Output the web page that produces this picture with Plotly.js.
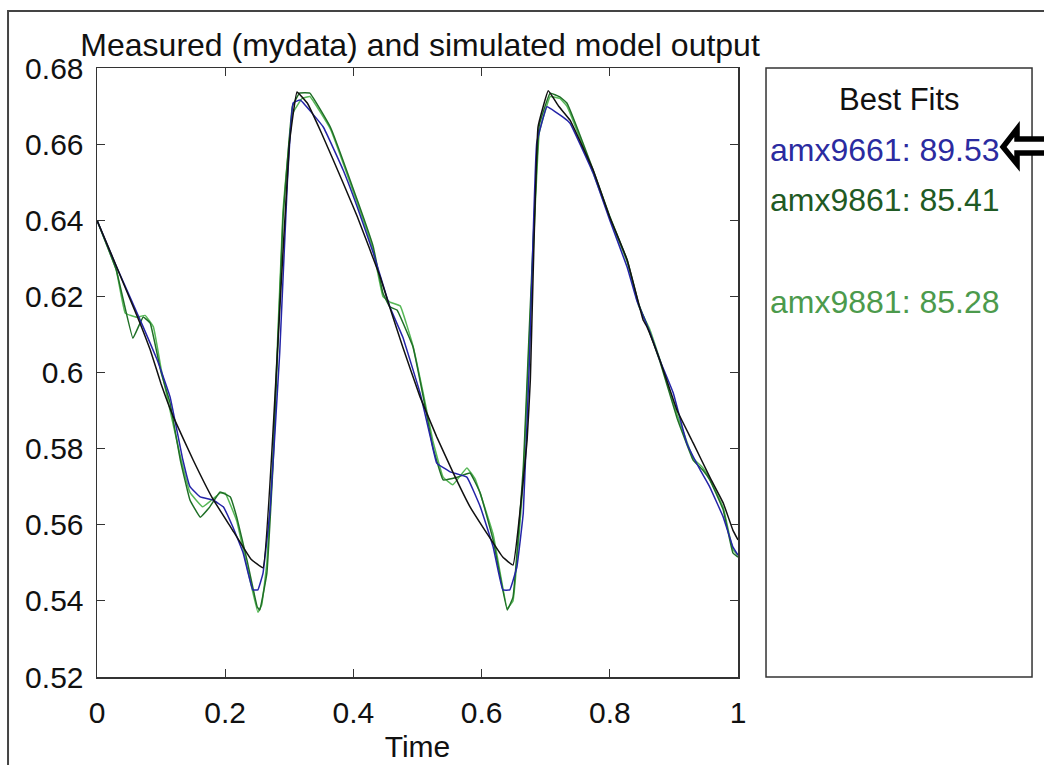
<!DOCTYPE html>
<html>
<head>
<meta charset="utf-8">
<script src="https://cdn.plot.ly/plotly-3.0.1.min.js"></script>
<style>html,body{margin:0;padding:0;background:#fff;}#chart{width:1044px;height:765px;}</style>
</head>
<body>
<div id="chart"></div>
<script>
// ---- data ----
var measuredT = [0, 0.03, 0.067, 0.083, 0.10, 0.12, 0.15, 0.18, 0.21, 0.24, 0.259, 0.281, 0.30, 0.312, 0.328, 0.35, 0.384, 0.406, 0.442, 0.457, 0.477, 0.504, 0.530, 0.555, 0.582, 0.608, 0.633, 0.649, 0.671, 0.676, 0.688, 0.704, 0.720, 0.738, 0.774, 0.800, 0.827, 0.852, 0.858, 0.878, 0.905, 0.930, 0.956, 0.977, 0.992, 1.0];
var measuredY = [0.640, 0.628, 0.613, 0.606, 0.597, 0.588, 0.577, 0.567, 0.559, 0.551, 0.5487, 0.604, 0.660, 0.6737, 0.6708, 0.663, 0.6498, 0.641, 0.625, 0.617, 0.6067, 0.5936, 0.5831, 0.5739, 0.5647, 0.5578, 0.5515, 0.5494, 0.5823, 0.598, 0.6645, 0.674, 0.670, 0.6663, 0.6532, 0.6408, 0.6296, 0.6138, 0.612, 0.6033, 0.590, 0.5815, 0.5725, 0.5657, 0.5586, 0.556];

var amx9661T = [0, 0.03, 0.072, 0.094, 0.114, 0.134, 0.145, 0.161, 0.181, 0.197, 0.212, 0.228, 0.243, 0.251, 0.259, 0.270, 0.285, 0.297, 0.306, 0.317, 0.353, 0.384, 0.406, 0.431, 0.457, 0.477, 0.504, 0.520, 0.530, 0.551, 0.577, 0.598, 0.618, 0.633, 0.644, 0.655, 0.665, 0.675, 0.686, 0.702, 0.727, 0.738, 0.774, 0.800, 0.827, 0.842, 0.863, 0.878, 0.899, 0.920, 0.941, 0.956, 0.977, 0.992, 1.0];
var amx9661Y = [0.640, 0.628, 0.612, 0.6033, 0.5936, 0.577, 0.570, 0.5673, 0.5665, 0.5647, 0.5594, 0.5526, 0.5429, 0.5429, 0.5473, 0.5639, 0.605, 0.650, 0.6708, 0.6716, 0.6645, 0.6532, 0.6435, 0.6314, 0.6172, 0.6093, 0.5946, 0.5831, 0.5762, 0.5739, 0.5725, 0.5647, 0.5542, 0.5429, 0.5429, 0.5489, 0.5631, 0.605, 0.6603, 0.6698, 0.6671, 0.6655, 0.6524, 0.640, 0.6277, 0.619, 0.6104, 0.6033, 0.5946, 0.5815, 0.5744, 0.5699, 0.562, 0.5542, 0.552];

var amx9861T = [0, 0.03, 0.056, 0.072, 0.083, 0.10, 0.114, 0.130, 0.145, 0.161, 0.176, 0.192, 0.208, 0.218, 0.234, 0.250, 0.254, 0.265, 0.275, 0.290, 0.305, 0.316, 0.332, 0.364, 0.406, 0.431, 0.446, 0.457, 0.468, 0.493, 0.509, 0.524, 0.540, 0.562, 0.582, 0.598, 0.618, 0.640, 0.649, 0.665, 0.690, 0.707, 0.722, 0.733, 0.774, 0.800, 0.827, 0.845, 0.858, 0.878, 0.905, 0.930, 0.945, 0.956, 0.977, 0.992, 1.0];
var amx9861Y = [0.640, 0.627, 0.609, 0.6146, 0.613, 0.600, 0.592, 0.577, 0.5665, 0.562, 0.5647, 0.5686, 0.5673, 0.562, 0.5507, 0.5384, 0.5376, 0.5473, 0.577, 0.640, 0.670, 0.6734, 0.6734, 0.6645, 0.6453, 0.633, 0.6209, 0.6172, 0.6164, 0.6067, 0.5936, 0.5804, 0.5718, 0.5725, 0.5736, 0.5683, 0.556, 0.5376, 0.541, 0.575, 0.665, 0.6734, 0.6724, 0.6708, 0.6532, 0.641, 0.6296, 0.618, 0.6125, 0.603, 0.588, 0.577, 0.5744, 0.5718, 0.5639, 0.5526, 0.5515];

var amx9881T = [0, 0.03, 0.044, 0.062, 0.075, 0.088, 0.10, 0.114, 0.130, 0.145, 0.165, 0.192, 0.200, 0.218, 0.234, 0.251, 0.257, 0.265, 0.275, 0.290, 0.305, 0.320, 0.332, 0.364, 0.406, 0.431, 0.446, 0.457, 0.473, 0.493, 0.509, 0.524, 0.540, 0.555, 0.577, 0.590, 0.618, 0.640, 0.649, 0.665, 0.690, 0.707, 0.722, 0.733, 0.774, 0.800, 0.827, 0.845, 0.862, 0.878, 0.905, 0.930, 0.945, 0.956, 0.977, 0.992, 1.0];
var amx9881Y = [0.640, 0.627, 0.6156, 0.6145, 0.615, 0.612, 0.601, 0.590, 0.578, 0.5685, 0.5647, 0.5683, 0.5683, 0.561, 0.549, 0.537, 0.539, 0.550, 0.580, 0.642, 0.668, 0.672, 0.6725, 0.664, 0.6445, 0.632, 0.620, 0.6185, 0.6175, 0.607, 0.5945, 0.582, 0.5725, 0.5705, 0.5749, 0.572, 0.5575, 0.538, 0.540, 0.572, 0.663, 0.6725, 0.672, 0.670, 0.6525, 0.6405, 0.629, 0.6175, 0.6115, 0.6035, 0.589, 0.5775, 0.575, 0.572, 0.5645, 0.5535, 0.552];

var modelNames = ['amx9661', 'amx9861', 'amx9881'];
var fitValues = [89.53, 85.41, 85.28];

var xTickVals = [0, 0.2, 0.4, 0.6, 0.8, 1];
var xTickText = ['0', '0.2', '0.4', '0.6', '0.8', '1'];
var yTickVals = [0.52, 0.54, 0.56, 0.58, 0.60, 0.62, 0.64, 0.66, 0.68];
var yTickText = ['0.52', '0.54', '0.56', '0.58', '0.6', '0.62', '0.64', '0.66', '0.68'];

// ---- styling ----
var lineColors = ['#2424a8', '#1f6f26', '#58b858'];
var textColors = ['#2b2ba0', '#1f5a24', '#4c9a4c'];
var legendY = [0.866, 0.783, 0.616];
var FONT = 'Liberation Sans, Arial, sans-serif';

function tr(x, y, color, w) {
  return {x: x, y: y, type: 'scatter', mode: 'lines',
    line: {color: color, width: w, shape: 'spline', smoothing: 0.25},
    hoverinfo: 'skip', showlegend: false};
}

var traces = [
  tr(amx9881T, amx9881Y, lineColors[2], 1.5),
  tr(amx9861T, amx9861Y, lineColors[1], 1.5),
  tr(amx9661T, amx9661Y, lineColors[0], 1.5),
  tr(measuredT, measuredY, '#111111', 1.5)
];

var annotations = [{
  text: 'Best Fits', xref: 'paper', yref: 'paper', x: 1.2527, y: 0.9475,
  xanchor: 'center', yanchor: 'middle', showarrow: false,
  font: {family: FONT, size: 31, color: '#111'}
}];
for (var i = 0; i < modelNames.length; i++) {
  annotations.push({
    text: modelNames[i] + ': ' + fitValues[i].toFixed(2),
    xref: 'paper', yref: 'paper', x: 1.0475, y: legendY[i],
    xanchor: 'left', yanchor: 'middle', showarrow: false,
    font: {family: FONT, size: 32, color: textColors[i]}
  });
}

var shapes = [
  // legend box
  {type: 'rect', xref: 'paper', yref: 'paper', x0: 1.0437, x1: 1.4587, y0: 0, y1: 1,
   line: {color: '#333', width: 1.5}, fillcolor: 'rgba(0,0,0,0)'},
  // outer frame (left and top edges)
  {type: 'path', xref: 'paper', yref: 'paper',
   path: 'M -0.1388 -0.3 L -0.1388 1.0936 L 1.6 1.0936',
   line: {color: '#444', width: 2}},
  // hollow arrow pointing at best fit
  {type: 'path', xref: 'paper', yref: 'paper',
   path: 'M 1.4135 0.8703 L 1.4353 0.8999 L 1.4353 0.8834 L 1.49 0.8834 L 1.49 0.8604 L 1.4353 0.8604 L 1.4353 0.8423 Z',
   line: {color: '#000', width: 5.5}, fillcolor: '#fff'}
];

var axisCommon = {
  showline: true, mirror: 'ticks', linecolor: '#333', linewidth: 1.5,
  ticks: 'inside', ticklen: 8, tickwidth: 1.2, tickcolor: '#333',
  showgrid: false, zeroline: false, fixedrange: true,
  tickfont: {family: FONT, size: 30, color: '#111'}
};

var layout = {
  width: 1044, height: 765,
  margin: {l: 97, r: 306, t: 68, b: 88},
  paper_bgcolor: '#fff', plot_bgcolor: '#fff',
  font: {family: FONT, color: '#111'},
  title: {text: 'Measured (mydata) and simulated model output',
    xref: 'paper', x: 0.504, xanchor: 'center',
    yref: 'container', y: 0.941, yanchor: 'middle',
    font: {family: FONT, size: 32, color: '#111'}},
  xaxis: Object.assign({}, axisCommon, {
    range: [0, 1], tickmode: 'array', tickvals: xTickVals, ticktext: xTickText,
    ticklabelstandoff: 8,
    title: {text: 'Time', font: {family: FONT, size: 30, color: '#111'}, standoff: 8}
  }),
  yaxis: Object.assign({}, axisCommon, {
    range: [0.52, 0.68], tickmode: 'array', tickvals: yTickVals, ticktext: yTickText,
    ticklabelstandoff: 6
  }),
  shapes: shapes,
  annotations: annotations,
  showlegend: false
};

Plotly.newPlot('chart', traces, layout, {displayModeBar: false, staticPlot: true});
</script>
</body>
</html>
